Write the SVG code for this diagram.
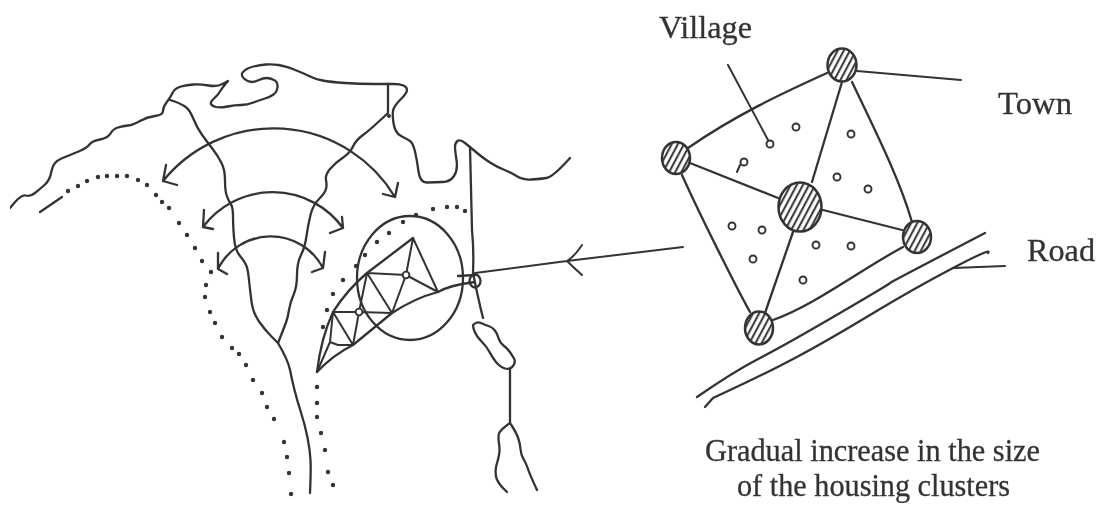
<svg xmlns="http://www.w3.org/2000/svg" width="1097" height="505" viewBox="0 0 1097 505">
<style>
.l{fill:none;stroke:#353234;stroke-width:2.3;stroke-linecap:round;stroke-linejoin:round}
.t{stroke-width:2}
.d{fill:#353234}
.v{fill:#fff;stroke:#353234;stroke-width:1.9}
.h{fill:url(#hatch);stroke:#353234;stroke-width:2.5}
text{font-family:"Liberation Serif","DejaVu Serif",serif;font-size:32px;fill:#353234;stroke:#353234;stroke-width:.3}
</style>
<defs>
<pattern id="hatch" width="5.4" height="6" patternUnits="userSpaceOnUse" patternTransform="rotate(28)">
<rect width="6" height="6" fill="#fff"/>
<line x1="2" y1="0" x2="2" y2="6" stroke="#333" stroke-width="2"/>
</pattern>
<filter id="soft" x="0" y="0" width="100%" height="100%"><feGaussianBlur stdDeviation="0.5"/></filter>
</defs>
<rect width="1097" height="505" fill="#fff"/>
<g filter="url(#soft)">
<g id="map">
<path class="l" d="M10,208Q21,194 25.5,195.5Q30,197 35,193Q40,189 45,184.5Q50,180 51.5,171Q53,162 61.5,158.5Q70,155 78.5,151.5Q87,148 89.5,144.5Q92,141 100,139.5Q108,138 110.5,133.5Q113,129 118,127.5Q123,126 128,125.5Q133,125 140,121Q147,117 155,116Q163,115 163,111Q163,107 166.5,102.5Q170,98 172.5,93Q175,88 181,86.5Q187,85 193.5,84.5Q200,84 208.5,85.5Q217,87 222.5,84L228,81Q222,88 220,91.5Q218,95 214,98.5Q210,102 211,104Q212,106 216,107Q220,108 227.5,106.5Q235,105 241,105Q247,105 253.5,102.5Q260,100 265,98.5Q270,97 273.5,94.5Q277,92 277.5,87Q278,82 274,80Q270,78 266.5,78Q263,78 259,80Q255,82 251.5,82Q248,82 244,78.5Q240,75 243.5,71.5Q247,68 253.5,66.5Q260,65 266,64.5Q272,64 278.5,65Q285,66 294,69.5Q303,73 309,76Q315,79 322.5,80.5Q330,82 345,83Q360,84 374,84Q388,84 394,84Q400,84 403.5,85.5Q407,87 407,90Q407,93 401,99Q395,105 393.5,109Q392,113 393.5,123Q395,133 401,136Q407,139 410,141Q413,143 415,151.5Q417,160 418.5,171.5Q420,183 427.5,182.5Q435,182 442.5,182Q450,182 454,176Q458,170 456.5,160Q455,150 455,146.5Q455,143 457.5,141Q460,139 465,143Q470,147 476.5,152.5Q483,158 490,162.5Q497,167 503.5,169.5Q510,172 516.5,176Q523,180 531.5,179.5Q540,179 546.5,178Q553,177 570,158"/>
<path class="l" d="M170,100Q180,103 185,106.5Q190,110 193.5,119Q197,128 202.5,135.5Q208,143 213,149.5Q218,156 221.5,163Q225,170 225,180Q225,190 226.5,195Q228,200 230.5,203.5Q233,207 233,216Q233,225 234,237.5Q235,250 240,256Q245,262 246.5,266Q248,270 249,280Q250,290 251.5,301.5Q253,313 259,321.5Q265,330 271.5,336.5L278,343Q288,360 290,370Q292,380 294.5,390Q297,400 301,412.5Q305,425 307.5,437.5Q310,450 310.5,460Q311,470 310,493"/>
<path class="l" d="M388,84L388,113Q370,130 363,135Q356,140 353,146.5Q350,153 342.5,158Q335,163 330,169Q325,175 326,180Q327,185 326,189Q325,193 319,199Q313,205 310.5,215Q308,225 306.5,236Q305,247 301,255Q297,263 297,275Q297,287 293.5,295Q290,303 289,310Q288,317 286,322.5Q284,328 278,343"/>
<circle class="d" cx="389" cy="116" r="2"/>
<path class="l" d="M470,147Q471,190 472,230Q474,250 473,273Q478,298 483,318"/>
<path class="l" d="M473,325Q477,321 481,323Q485,325 488.5,326Q492,327 494.5,330Q497,333 498.5,338Q500,343 503.5,345.5Q507,348 509.5,351.5Q512,355 514,358.5Q516,362 513,366Q510,370 505,368.5Q500,367 496,362Q492,357 489.5,352Q487,347 482,342Q477,337 475,332.5Q473,328 473,325Z"/>
<path class="l" d="M510,370L510,423Q500,430 499,433.5Q498,437 499,443.5Q500,450 499,455Q498,460 496.5,465Q495,470 496,476.5Q497,483 507,492M510,423Q516,432 518,437.5Q520,443 520.5,449Q521,455 523.5,459Q526,463 528,469Q530,475 537,490"/>
<path class="l" d="M163,181A142 142 0 0 1 395,197M166,165L163,181L177,185M398,183L395,197L383,194"/>
<path class="l" d="M203,227A87 87 0 0 1 343,228M204,210L203,227L213,229M342,217L343,228L330,233"/>
<path class="l" d="M218,269A59 59 0 0 1 323,268M218,253L218,269L227,274M325,252L323,268L312,272"/>
<path class="l" d="M40,212L62,197"/>
<g class="d">
<circle cx="68" cy="191" r="2.2"/><circle cx="78" cy="186" r="2.2"/><circle cx="87" cy="181" r="2.2"/><circle cx="98" cy="177" r="2.2"/><circle cx="107" cy="176" r="2.2"/><circle cx="117" cy="176" r="2.2"/><circle cx="127" cy="176" r="2.2"/><circle cx="138" cy="180" r="2.2"/><circle cx="147" cy="185" r="2.2"/><circle cx="156" cy="195" r="2.2"/><circle cx="162" cy="202" r="2.2"/><circle cx="169" cy="208" r="2.2"/><circle cx="179" cy="223" r="2.2"/><circle cx="187" cy="235" r="2.2"/><circle cx="195" cy="248" r="2.2"/><circle cx="202" cy="261" r="2.2"/><circle cx="211" cy="272" r="2.2"/><circle cx="206" cy="285" r="2.2"/><circle cx="205" cy="297" r="2.2"/><circle cx="210" cy="312" r="2.2"/><circle cx="215" cy="323" r="2.2"/><circle cx="222" cy="337" r="2.2"/><circle cx="232" cy="348" r="2.2"/><circle cx="239" cy="354" r="2.2"/><circle cx="246" cy="365" r="2.2"/><circle cx="253" cy="380" r="2.2"/><circle cx="262" cy="393" r="2.2"/><circle cx="267" cy="407" r="2.2"/><circle cx="274" cy="419" r="2.2"/><circle cx="284" cy="442" r="2.2"/><circle cx="287" cy="457" r="2.2"/><circle cx="289" cy="473" r="2.2"/><circle cx="291" cy="494" r="2.2"/>
<circle cx="317" cy="387" r="2.2"/><circle cx="317" cy="403" r="2.2"/><circle cx="317" cy="417" r="2.2"/><circle cx="321" cy="433" r="2.2"/><circle cx="325" cy="450" r="2.2"/><circle cx="328" cy="472" r="2.2"/><circle cx="333" cy="485" r="2.2"/>
<circle cx="323" cy="327" r="2.2"/><circle cx="327" cy="310" r="2.2"/><circle cx="333" cy="294" r="2.2"/><circle cx="343" cy="280" r="2.2"/><circle cx="356" cy="266" r="2.2"/><circle cx="365" cy="255" r="2.2"/><circle cx="377" cy="242" r="2.2"/><circle cx="389" cy="233" r="2.2"/><circle cx="403" cy="222" r="2.2"/><circle cx="416" cy="215" r="2.2"/><circle cx="433" cy="209" r="2.2"/><circle cx="447" cy="207" r="2.2"/><circle cx="457" cy="207" r="2.2"/><circle cx="465" cy="211" r="2.2"/>
</g>
<ellipse class="l" cx="410" cy="278" rx="53" ry="62"/>
<path class="l" d="M317,372Q321,338 333,312Q347,290 367,273L413,238M317,372Q333,355 353,345L392,313Q415,298 438,292Q450,285 475,282"/>
<path class="l t" d="M413,238L438,292M413,238L406,275M367,273L406,275M406,275L438,292M406,275L392,313M367,273L392,313M367,273L359,312L353,345M333,312L359,312L392,313M333,312L353,345M333,312L330,342L317,372M330,342L338,345L353,345"/>
<circle class="v" cx="406" cy="275" r="3.4"/><circle class="v" cx="359" cy="312" r="3.4"/>
<path class="l" d="M458,276L475,275"/>
<ellipse class="l" cx="475" cy="281" rx="5.5" ry="6.5"/>
<path class="l t" d="M475,273L567,261L683,247M582,245Q575,256 567,261Q574,268 582,275"/>
</g>
<g id="connectors">
<path class="l" d="M827,73C790,90 740,112 688,148"/>
<path class="l" d="M852,82C875,130 900,180 912,222"/>
<path class="l" d="M903,247C860,270 815,305 773,320"/>
<path class="l" d="M682,175C700,215 735,285 750,312"/>
<path class="l" d="M778,198L690,163M812,182L842,82M823,210L902,230M793,232L765,313"/>
<path class="l t" d="M728,65L768,140M857,71L961,80M737,172L740,165"/>
<path class="l" d="M697,397Q733,372 760,358T840,313T890,283T985,233"/>
<path class="l" d="M705,407L713,398Q763,375 795,358T870,315T953,268T988,253"/>
<path class="l t" d="M953,268L1005,266"/>
</g>
<g id="town-top"><ellipse class="h" cx="842" cy="65" rx="14.5" ry="16.5"/></g>
<g id="town-left"><ellipse class="h" cx="676" cy="158" rx="14" ry="16"/></g>
<g id="town-centre"><ellipse class="h" cx="800" cy="207" rx="21.5" ry="24.5"/></g>
<g id="town-right"><ellipse class="h" cx="917" cy="237" rx="14" ry="16"/></g>
<g id="town-bottom"><ellipse class="h" cx="759" cy="328" rx="14" ry="16.5"/></g>
<g id="villages">
<circle class="v" cx="796" cy="127" r="3.5"/><circle class="v" cx="770" cy="144" r="3.5"/><circle class="v" cx="744" cy="162" r="3.5"/><circle class="v" cx="851" cy="134" r="3.5"/><circle class="v" cx="837" cy="177" r="3.5"/><circle class="v" cx="868" cy="189" r="3.5"/><circle class="v" cx="732" cy="226" r="3.5"/><circle class="v" cx="762" cy="230" r="3.5"/><circle class="v" cx="753" cy="259" r="3.5"/><circle class="v" cx="816" cy="245" r="3.5"/><circle class="v" cx="851" cy="246" r="3.5"/><circle class="v" cx="803" cy="280" r="3.5"/>
</g>
<g id="labels">
<text x="659" y="38" textLength="93" lengthAdjust="spacingAndGlyphs">Village</text>
<text x="998" y="114" textLength="74" lengthAdjust="spacingAndGlyphs">Town</text>
<text x="1027" y="261" textLength="68" lengthAdjust="spacingAndGlyphs">Road</text>
<text x="705" y="461" textLength="335" lengthAdjust="spacingAndGlyphs">Gradual increase in the size</text>
<text x="737" y="496" textLength="273" lengthAdjust="spacingAndGlyphs">of the housing clusters</text>
</g>
</g>
</svg>
